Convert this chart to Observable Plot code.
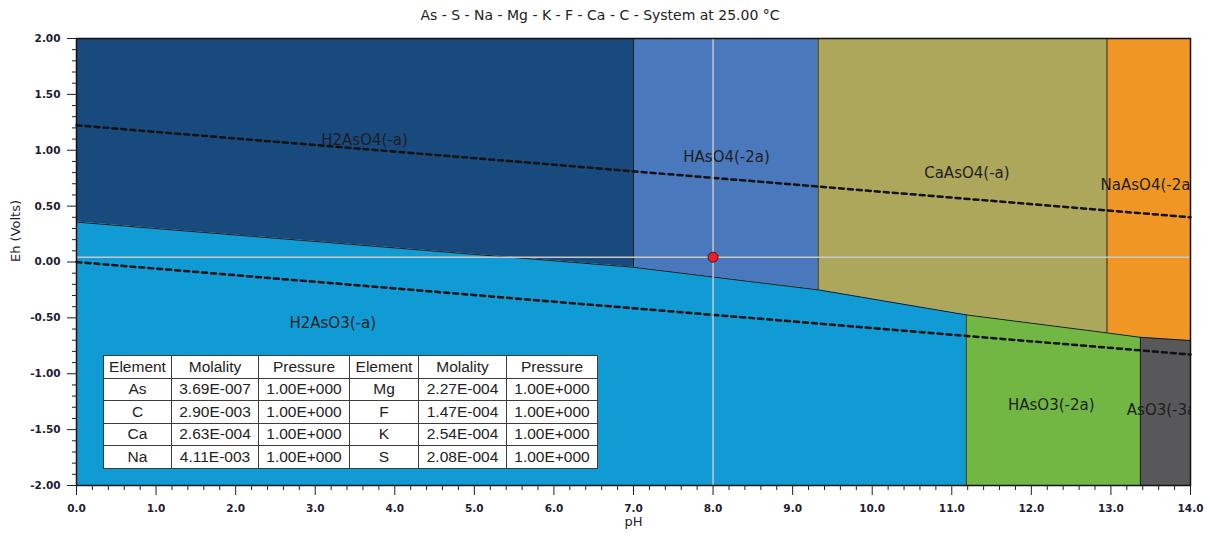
<!DOCTYPE html>
<html>
<head>
<meta charset="utf-8">
<script src="https://cdn.jsdelivr.net/npm/d3@7"></script>
<script src="https://cdn.jsdelivr.net/npm/@observablehq/plot@0.6"></script>
<style>
  html, body { margin: 0; padding: 0; background: #fff; }
  #wrap { position: relative; width: 1210px; height: 536px; overflow: hidden; }
  #title { position: absolute; left: 0; top: 7px; width: 1200px; text-align: center;
           font-family: "DejaVu Sans", sans-serif; font-size: 14px; color: #222; }
  #chart { position: absolute; left: 0; top: 30px; }
  #tbl { position: absolute; left: 103px; top: 355px; border-collapse: collapse; table-layout: fixed;
         background: #fff; font-family: "Liberation Sans", Arial, sans-serif; font-size: 15.5px; color: #222; }
  #tbl td { border: 1.5px solid #3c3c3c; text-align: center; padding: 0; height: 22.5px; line-height: 20px;
            box-sizing: border-box; overflow: hidden; white-space: nowrap; }
  #tbl tr:first-child td { height: 23.5px; }
</style>
</head>
<body>
<div id="wrap">
  <div id="title"></div>
  <div id="chart"></div>
  <table id="tbl"></table>
</div>
<script>
// ---- data ----
const titleText = "As - S - Na - Mg - K - F - Ca - C - System at 25.00 °C";
const xLabel = "pH";
const yLabel = "Eh (Volts)";

const xTicks = [0, 1, 2, 3, 4, 5, 6, 7, 8, 9, 10, 11, 12, 13, 14];
const yTicks = [-2, -1.5, -1, -0.5, 0, 0.5, 1, 1.5, 2];

// As(V) / As(III) predominance boundary
const boundaryPH = [0, 7.0, 9.32, 11.18, 12.95, 13.37, 14];
const boundaryEh = [0.357, -0.047, -0.249, -0.473, -0.634, -0.674, -0.703];

const speciesNames = ["H2AsO4(-a)", "HAsO4(-2a)", "CaAsO4(-a)", "NaAsO4(-2a)", "H2AsO3(-a)", "HAsO3(-2a)", "AsO3(-3a)"];
const speciesColors = ["#184a7e", "#4a78bc", "#ada75b", "#f09624", "#109bd5", "#72b743", "#58585a"];
const speciesEdge = [[0, 1], [1, 2], [2, 3, 4], [4, 5, 6], [0, 1, 2, 3], [3, 4, 5], [5, 6]];
const speciesSide = ["upper", "upper", "upper", "upper", "lower", "lower", "lower"];

// vertical (acid-base) boundaries
const vertPH = [7.0, 9.32, 12.95, 11.18, 13.37];
const vertTop = [2, 2, 2, -0.473, -0.674];
const vertBottom = [-0.047, -0.249, -0.634, -2, -2];

// species labels
const labelPH = [3.62, 8.17, 11.19, 12.87, 3.22, 12.25, 13.2];
const labelEh = [1.089, 0.936, 0.793, 0.685, -0.551, -1.277, -1.33];
const labelAnchor = ["middle", "middle", "middle", "start", "middle", "middle", "start"];

// water stability lines
const waterPH = [0, 14];
const waterUpperEh = [1.223, 0.40];
const waterLowerEh = [0.0, -0.828];

// current point
const pointPH = [8.0];
const pointEh = [0.043];

// element table
const elemA = ["As", "C", "Ca", "Na"];
const molA = ["3.69E-007", "2.90E-003", "2.63E-004", "4.11E-003"];
const presA = ["1.00E+000", "1.00E+000", "1.00E+000", "1.00E+000"];
const elemB = ["Mg", "F", "K", "S"];
const molB = ["2.27E-004", "1.47E-004", "2.54E-004", "2.08E-004"];
const presB = ["1.00E+000", "1.00E+000", "1.00E+000", "1.00E+000"];
const tableHeader = ["Element", "Molality", "Pressure", "Element", "Molality", "Pressure"];

// ---- build ----
document.getElementById("title").textContent = titleText;

const regionRows = [];
speciesNames.forEach((s, k) => {
  speciesEdge[k].forEach(i => {
    const up = speciesSide[k] === "upper";
    regionRows.push({species: s, pH: boundaryPH[i], lo: up ? boundaryEh[i] : -2, hi: up ? 2 : boundaryEh[i]});
  });
});
const boundaryRows = boundaryPH.map((p, i) => ({pH: p, Eh: boundaryEh[i]}));
const vertRows = vertPH.map((p, i) => ({pH: p, top: vertTop[i], bottom: vertBottom[i]}));
const labelRows = speciesNames.map((s, i) => ({name: s, pH: labelPH[i], Eh: labelEh[i], anchor: labelAnchor[i]}));
const waterUp = waterPH.map((p, i) => ({pH: p, Eh: waterUpperEh[i]}));
const waterLo = waterPH.map((p, i) => ({pH: p, Eh: waterLowerEh[i]}));
const pointRows = pointPH.map((p, i) => ({pH: p, Eh: pointEh[i]}));

const isMajor = (v, step) => Math.abs(Math.round(v / step) - v / step) < 1e-6;
const yMinor = d3.range(-2, 2.0001, 0.1).map(v => +v.toFixed(2)).filter(v => !isMajor(v, 0.5));
const xMinor = d3.range(0, 14.0001, 0.2).map(v => +v.toFixed(2)).filter(v => !isMajor(v, 1));

const chart = Plot.plot({
  width: 1210,
  height: 506,
  marginTop: 8,
  marginBottom: 51,
  marginLeft: 76,
  marginRight: 20,
  style: {fontFamily: "DejaVu Sans, sans-serif", fontSize: "10.5px", color: "#1d1d33", background: "#fff"},
  x: {domain: [0, 14]},
  y: {domain: [-2, 2]},
  color: {domain: speciesNames, range: speciesColors},
  marks: [
    Plot.areaY(regionRows, {x: "pH", y1: "lo", y2: "hi", z: "species", fill: "species"}),
    Plot.line(boundaryRows, {x: "pH", y: "Eh", stroke: "#1a1a1a", strokeWidth: 1}),
    Plot.ruleX(vertRows, {x: "pH", y1: "bottom", y2: "top", stroke: "#1a1a1a", strokeWidth: 1}),
    Plot.line(waterUp, {x: "pH", y: "Eh", stroke: "#111", strokeWidth: 2.5, strokeDasharray: "5,4"}),
    Plot.line(waterLo, {x: "pH", y: "Eh", stroke: "#111", strokeWidth: 2.5, strokeDasharray: "5,4"}),
    Plot.text(labelRows.filter(d => d.anchor === "middle"), {x: "pH", y: "Eh", text: "name", textAnchor: "middle", fontSize: 15, fill: "#1e1e1e", clip: true}),
    Plot.text(labelRows.filter(d => d.anchor === "start"), {x: "pH", y: "Eh", text: "name", textAnchor: "start", fontSize: 15, fill: "#1e1e1e", clip: true}),
    Plot.ruleX(pointRows, {x: "pH", stroke: "#c8c8c8", strokeWidth: 1.5}),
    Plot.ruleY(pointRows, {y: "Eh", stroke: "#c8c8c8", strokeWidth: 1.5}),
    Plot.dot(pointRows, {x: "pH", y: "Eh", r: 5, fill: "#e8202a", stroke: "#5a1010", strokeWidth: 1}),
    Plot.frame({stroke: "#111", strokeWidth: 1.5}),
    Plot.axisX(xTicks, {tickSize: 10, tickPadding: 9, tickFormat: d => d.toFixed(1), label: null, fontWeight: "bold"}),
    Plot.axisX(xMinor, {tickSize: 5, tickFormat: () => "", label: null}),
    Plot.axisY(yTicks, {tickSize: 9, tickPadding: 7, tickFormat: d => d.toFixed(2), label: null, fontWeight: "bold"}),
    Plot.axisY(yMinor, {tickSize: 4, tickFormat: () => "", label: null}),
    Plot.text([xLabel], {frameAnchor: "bottom", dy: 40, fontSize: 13, fill: "#1d1d33"}),
    Plot.text([yLabel], {frameAnchor: "left", dx: -61, rotate: -90, fontSize: 13, fill: "#1d1d33"})
  ]
});
document.getElementById("chart").appendChild(chart);

// table
const tbl = document.getElementById("tbl");
const widths = [68, 87, 91, 69, 88, 91];
const rows = [tableHeader].concat(elemA.map((e, i) => [e, molA[i], presA[i], elemB[i], molB[i], presB[i]]));
const colgroup = document.createElement("colgroup");
widths.forEach(w => { const c = document.createElement("col"); c.style.width = w + "px"; colgroup.appendChild(c); });
tbl.appendChild(colgroup);
tbl.style.width = d3.sum(widths) + "px";
rows.forEach(r => {
  const tr = document.createElement("tr");
  r.forEach((c, j) => {
    const td = document.createElement("td");
    td.textContent = c;
    if (j === 3) td.style.borderLeftColor = "#9a9a9a";
    tr.appendChild(td);
  });
  tbl.appendChild(tr);
});
</script>
</body>
</html>
